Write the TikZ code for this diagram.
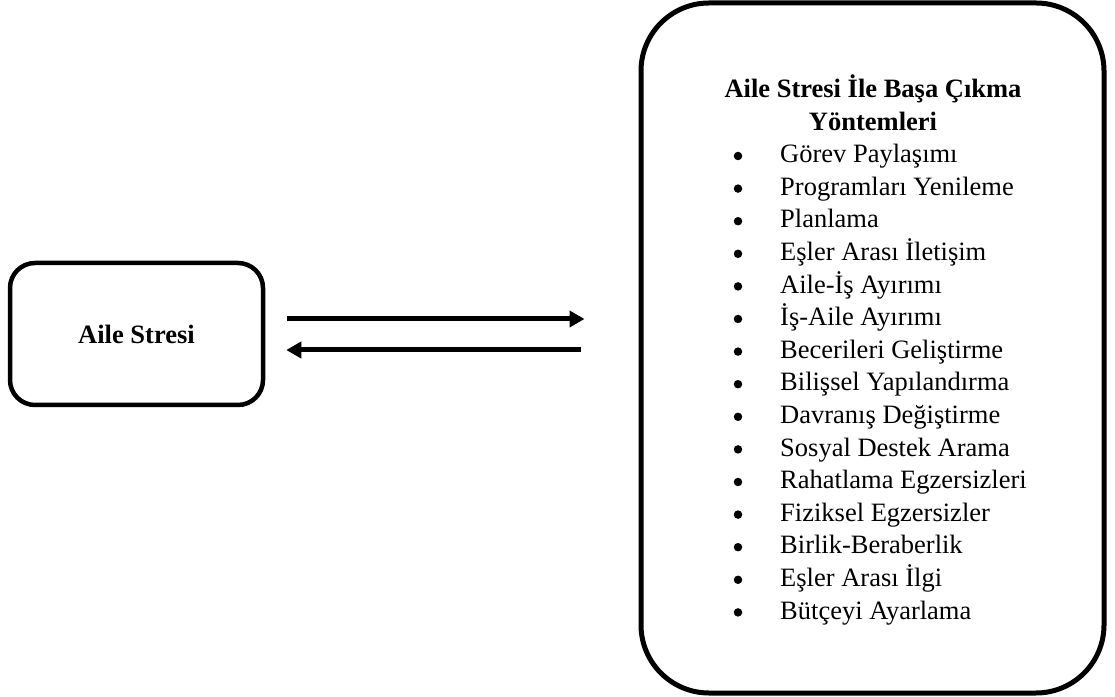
\documentclass[tikz,border=0pt]{standalone}
\usepackage{fontspec}
\setmainfont{Liberation Serif}
\usepackage{tikz}
\usetikzlibrary{arrows.meta}

\begin{document}
\begin{tikzpicture}[
  x=1pt, y=1pt,
  every node/.style={font=\fontsize{26.5}{32.6}\selectfont},
  stressbox/.style={rectangle, draw, line width=4.5pt, rounded corners=25pt,
    minimum width=253pt, minimum height=142pt, align=center, inner sep=0pt},
  copebox/.style={rectangle, draw, line width=5pt, rounded corners=68pt,
    minimum width=463pt, minimum height=690pt, inner sep=0pt},
  flow/.style={line width=5pt, -{Triangle[length=15pt, width=16pt]}},
  bulletdot/.style={circle, fill, minimum size=8.5pt, inner sep=0pt},
  itemtext/.style={anchor=base west, inner sep=0pt}
]
  \useasboundingbox (0,0) rectangle (1115,696);

  \node[stressbox] (stres) at (136.5, 362) {\textbf{Aile Stresi}};
  \node[copebox] (yontem) at (872.5, 348) {};

  % base = baseline of the last line
  \node[anchor=base, align=center, inner sep=0pt] (baslik) at (873, 565.6)
    {\textbf{Aile Stresi İle Başa Çıkma}\\\textbf{Yöntemleri}};

  \foreach \yol [count=\i] in {Görev Paylaşımı, Programları Yenileme, Planlama,
      Eşler Arası İletişim, Aile-İş Ayırımı, İş-Aile Ayırımı,
      Becerileri Geliştirme, Bilişsel Yapılandırma, Davranış Değiştirme,
      Sosyal Destek Arama, Rahatlama Egzersizleri, Fiziksel Egzersizler,
      Birlik-Beraberlik, Eşler Arası İlgi, Bütçeyi Ayarlama} {
    \node[bulletdot] (dot\i) at (738, {540 - 32.6*(\i-1)}) {};
    \node[itemtext] (yol\i) at (780, {533.3 - 32.6*(\i-1)}) {\yol};
  }

  \draw[flow, shorten <=22pt, shorten >=54pt]
    ([yshift=15pt]stres.east) -- ([yshift=15pt]stres.east -| yontem.west);
  \draw[flow, shorten <=58pt, shorten >=21pt]
    ([yshift=-16pt]stres.east -| yontem.west) -- ([yshift=-16pt]stres.east);
\end{tikzpicture}
\end{document}
